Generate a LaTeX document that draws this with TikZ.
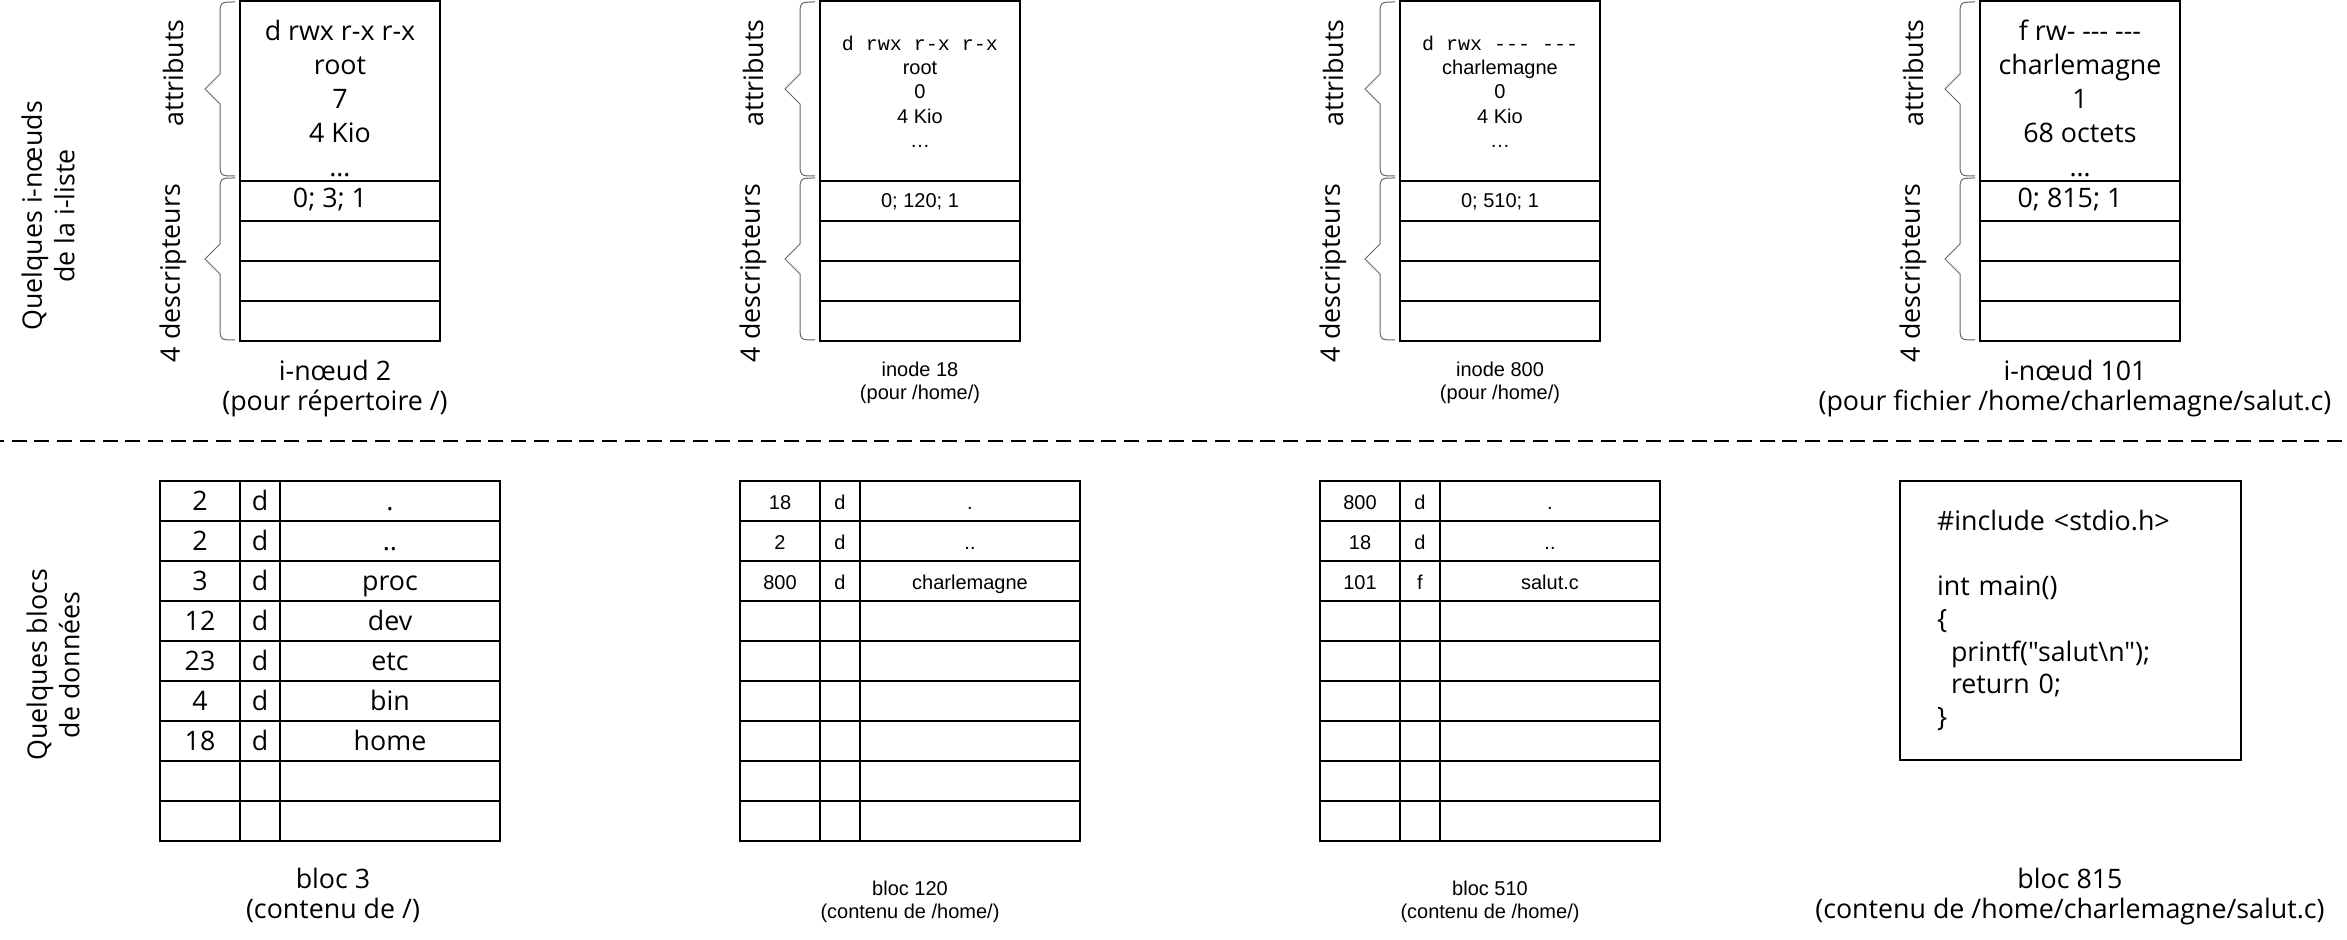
\documentclass[tikz,border=0pt]{standalone}
\usepackage{fontspec}
\setmainfont{Open Sans}[Ligatures=TeXOff]
\newfontfamily\helv{Liberation Sans}
\newfontfamily\helvmono{Liberation Mono}

\tikzset{
  trait/.style={line width=0.9pt},
  accolade/.style={line width=0.5pt,black!60},
  grand/.style={font=\fontsize{13.4pt}{16.3pt}\selectfont,inner sep=0pt},
  petit/.style={font=\helv\fontsize{10pt}{11.9pt}\selectfont,inner sep=0pt},
  attribs/.style={grand,font=\fontsize{13.4pt}{17pt}\selectfont,align=center,anchor=north},
  petitattribs/.style={petit,font=\helv\fontsize{10pt}{12.2pt}\selectfont,align=center,anchor=north},
  legende/.style={grand,font=\fontsize{13.4pt}{15pt}\selectfont,align=center,anchor=north},
  petitelegende/.style={petit,font=\helv\fontsize{10pt}{11.8pt}\selectfont,align=center,anchor=north},
  cellule/.style={anchor=base}
}

\begin{document}
\begin{tikzpicture}[x=0.5pt,y=-0.5pt]
\useasboundingbox (0,0) rectangle (2347,940);
% i-noeuds
\foreach \X/\k in {240/2,820/18,1400/800,1980/101}{
  \draw[trait] (\X,1) rectangle (\X+200,341);
  \foreach \Y in {181,221,261,301} \draw[trait] (\X,\Y) -- (\X+200,\Y);
  \draw[accolade] (\X-5,2) .. controls (\X-20,2) .. (\X-20,17) -- (\X-20,74) -- (\X-35,89) -- (\X-20,104) -- (\X-20,161) .. controls (\X-20,176) .. (\X-5,176);
  \draw[accolade] (\X-5,178) .. controls (\X-20,178) .. (\X-20,193) -- (\X-20,244) -- (\X-35,259) -- (\X-20,274) -- (\X-20,325) .. controls (\X-20,340) .. (\X-5,340);
  \node[grand,rotate=90] (attr\k) at (\X-67,73) {attributs};
  \node[grand,rotate=90] (descr\k) at (\X-67,273) {4 descripteurs};
}
\node[grand,align=center,rotate=90] (iliste) at (48,216) {Quelques i-nœuds\\de la i-liste};

\node[attribs] (val2) at (340,20) {d rwx r-x r-x\\root\\7\\4 Kio\\…};
\node[petitattribs] (val18) at (920,35.3) {{\helvmono d rwx r-x r-x}\\root\\0\\4 Kio\\…};
\node[petitattribs] (val800) at (1500,35.3) {{\helvmono d rwx -{}-{}- -{}-{}-}\\charlemagne\\0\\4 Kio\\…};
\node[attribs] (val101) at (2080,20) {f rw- -{}-{}- -{}-{}-\\charlemagne\\1\\68 octets\\…};

\node[grand,cellule] (ptr2) at (330,208) {0; 3; 1};
\node[petit,cellule] (ptr18) at (920,208) {0; 120; 1};
\node[petit,cellule] (ptr800) at (1500,208) {0; 510; 1};
\node[grand,cellule] (ptr101) at (2070,208) {0; 815; 1};

\node[legende] (leg2) at (335,359.6) {i-nœud 2\\(pour répertoire /)};
\node[petitelegende] (leg18) at (920,361.5) {inode 18\\(pour /home/)};
\node[petitelegende] (leg800) at (1500,361.5) {inode 800\\(pour /home/)};
\node[legende] (leg101) at (2075,359.6) {i-nœud 101\\(pour fichier /home/charlemagne/salut.c)};

\draw[trait,dash pattern=on 7.5pt off 3.85pt,dash phase=5.5pt] (0,441) -- (2347,441);

% blocs de donnees
\node[grand,align=center,rotate=90] (blocs) at (53,665) {Quelques blocs\\de données};
\foreach \X in {160,740,1320}{
  \draw[trait] (\X,481) rectangle (\X+340,841);
  \foreach \Y in {521,561,...,801} \draw[trait] (\X,\Y) -- (\X+340,\Y);
  \draw[trait] (\X+80,481) -- (\X+80,841);
  \draw[trait] (\X+120,481) -- (\X+120,841);
}
\foreach \a/\b/\c [count=\i from 0] in {2/d/.,2/d/..,3/d/proc,12/d/dev,23/d/etc,4/d/bin,18/d/home}{
  \node[grand,cellule] (b3i\i) at (200,511+40*\i) {\a};
  \node[grand,cellule] (b3t\i) at (260,511+40*\i) {\b};
  \node[grand,cellule] (b3n\i) at (390,511+40*\i) {\c};
}
\foreach \a/\b/\c [count=\i from 0] in {18/d/.,2/d/..,800/d/charlemagne}{
  \node[petit,cellule] (b120i\i) at (780,510+40*\i) {\a};
  \node[petit,cellule] (b120t\i) at (840,510+40*\i) {\b};
  \node[petit,cellule] (b120n\i) at (970,510+40*\i) {\c};
}
\foreach \a/\b/\c [count=\i from 0] in {800/d/.,18/d/..,101/f/salut.c}{
  \node[petit,cellule] (b510i\i) at (1360,510+40*\i) {\a};
  \node[petit,cellule] (b510t\i) at (1420,510+40*\i) {\b};
  \node[petit,cellule] (b510n\i) at (1550,510+40*\i) {\c};
}
\node[grand,draw,trait,minimum width=170.5pt,minimum height=139.5pt,inner xsep=18.5pt,text width=133.5pt,align=left] (source) at (2070.5,620.5)
  {\#include <stdio.h>\\[16.3pt]int main()\\\{\\\hspace*{7pt}printf("salut\textbackslash n");\\\hspace*{7pt}return 0;\\\}};

\node[legende] (leg3) at (333,867.6) {bloc 3\\(contenu de /)};
\node[petitelegende] (leg120) at (910,880.5) {bloc 120\\(contenu de /home/)};
\node[petitelegende] (leg510) at (1490,880.5) {bloc 510\\(contenu de /home/)};
\node[legende] (leg815) at (2070,867.6) {bloc 815\\(contenu de /home/charlemagne/salut.c)};
\end{tikzpicture}
\end{document}
